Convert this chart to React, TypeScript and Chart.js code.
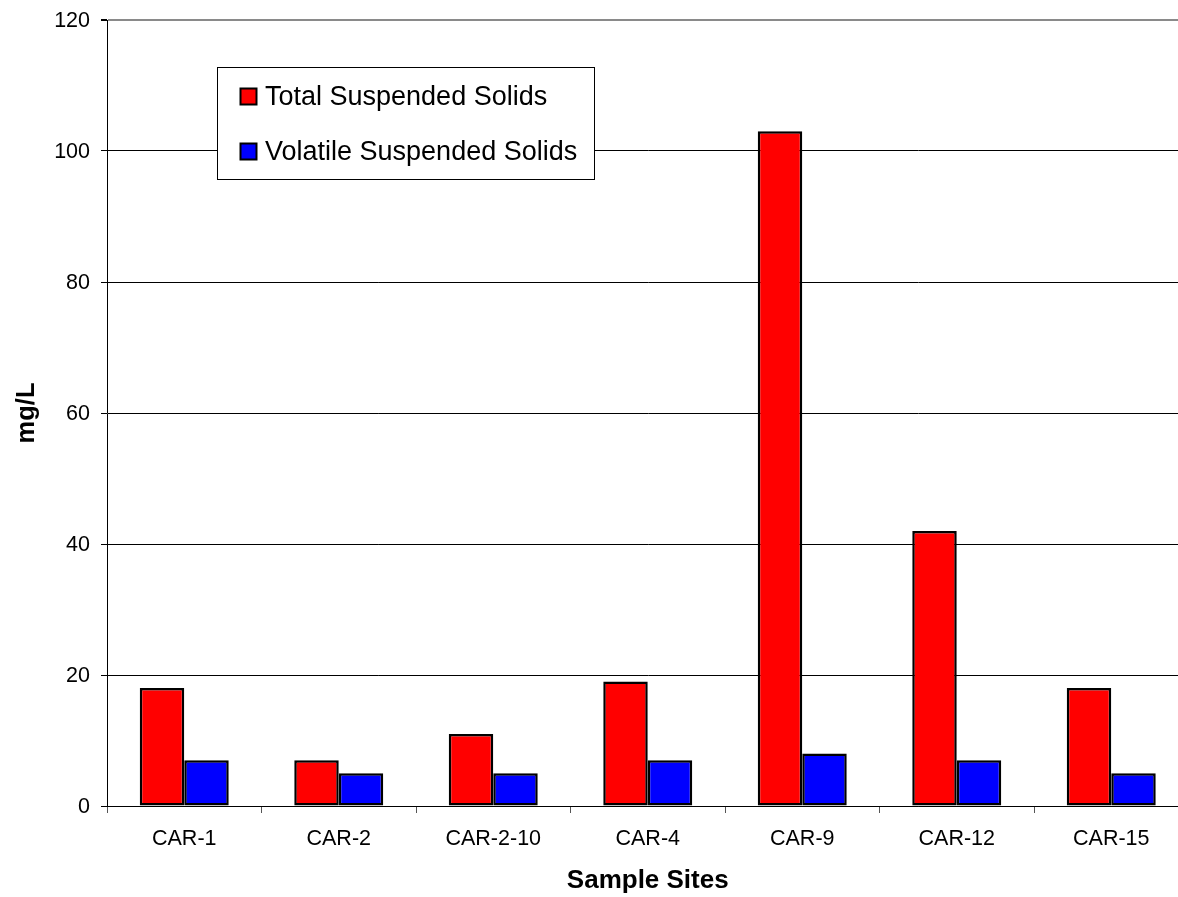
import React, { useEffect, useRef } from "react";
import { Chart, registerables } from "chart.js";

Chart.register(...registerables);

const categories = ["CAR-1", "CAR-2", "CAR-2-10", "CAR-4", "CAR-9", "CAR-12", "CAR-15"];
const totalSuspendedSolids = [18, 7, 11, 19, 103, 42, 18];
const volatileSuspendedSolids = [7, 5, 5, 7, 8, 7, 5];
const seriesLabels = ["Total Suspended Solids", "Volatile Suspended Solids"];
const seriesColors = ["#FF0000", "#0000FF"];
const yTickValues = [0, 20, 40, 60, 80, 100, 120];
const xAxisTitle = "Sample Sites";
const yAxisTitle = "mg/L";

const FONT = "Arial, 'Liberation Sans', sans-serif";

const boxLegend = {
  id: "boxLegend",
  afterDraw(chart: any) {
    const { ctx, chartArea } = chart;
    const x0 = chartArea.left + 110.5;
    const y0 = chartArea.top + 47.5;
    const w = 377;
    const h = 112;
    ctx.save();
    ctx.fillStyle = "#ffffff";
    ctx.fillRect(x0, y0, w, h);
    ctx.strokeStyle = "#000000";
    ctx.lineWidth = 1;
    ctx.strokeRect(x0, y0, w, h);
    ctx.font = `27px ${FONT}`;
    ctx.textBaseline = "middle";
    ctx.textAlign = "left";
    chart.data.datasets.forEach((ds: any, i: number) => {
      const cy = y0 + 29 + i * 55;
      const sx = x0 + 23;
      const size = 16;
      ctx.fillStyle = ds.backgroundColor;
      ctx.fillRect(sx, cy - size / 2, size, size);
      ctx.lineWidth = 2;
      ctx.strokeStyle = "#000000";
      ctx.strokeRect(sx, cy - size / 2, size, size);
      ctx.fillStyle = "#000000";
      ctx.fillText(ds.label, x0 + 47.5, cy + 1.5);
    });
    ctx.restore();
  },
};

export default function App() {
  const canvasRef = useRef<HTMLCanvasElement | null>(null);

  useEffect(() => {
    if (!canvasRef.current) return;
    const chart = new Chart(canvasRef.current, {
      type: "bar",
      data: {
        labels: categories,
        datasets: [
          {
            label: seriesLabels[0],
            data: totalSuspendedSolids,
            backgroundColor: seriesColors[0],
            borderColor: "#000000",
            borderWidth: 2.5,
            borderSkipped: false,
            barPercentage: 1,
            categoryPercentage: 0.576,
          },
          {
            label: seriesLabels[1],
            data: volatileSuspendedSolids,
            backgroundColor: seriesColors[1],
            borderColor: "#000000",
            borderWidth: 2.5,
            borderSkipped: false,
            barPercentage: 1,
            categoryPercentage: 0.576,
          },
        ],
      },
      options: {
        responsive: false,
        animation: false,
        devicePixelRatio: 1,
        layout: { padding: { left: 0, right: 11.5, top: 20, bottom: 0 } },
        plugins: {
          legend: { display: false },
          tooltip: { enabled: false },
          title: { display: false },
        },
        scales: {
          x: {
            offset: true,
            grid: {
              display: true,
              offset: true,
              drawOnChartArea: false,
              drawTicks: true,
              tickLength: 7,
              color: "#555555",
            },
            border: { display: true, color: "#000000", width: 1 },
            ticks: {
              color: "#000000",
              font: { family: FONT, size: 21.5 },
              padding: 13,
              maxRotation: 0,
              autoSkip: false,
            },
            title: {
              display: true,
              text: xAxisTitle,
              color: "#000000",
              font: { family: FONT, size: 26, weight: "bold" },
              padding: { top: 0, bottom: 1 },
            },
            afterFit: (scale: any) => {
              scale.height = 91;
            },
          },
          y: {
            min: 0,
            max: 120,
            afterBuildTicks: (scale: any) => {
              scale.ticks = yTickValues.map((v) => ({ value: v }));
            },
            grid: {
              color: (c: any) => (c.tick && c.tick.value === 120 ? "#8a8a8a" : "#000000"),
              lineWidth: (c: any) => (c.tick && c.tick.value === 120 ? 2 : 1),
              tickColor: "#000000",
              tickLength: 6,
              drawTicks: true,
            },
            border: { display: true, color: "#000000", width: 1 },
            ticks: {
              color: "#000000",
              font: { family: FONT, size: 21.5 },
              padding: 11,
              labelOffset: 1.5,
            },
            title: {
              display: true,
              text: yAxisTitle,
              color: "#000000",
              font: { family: FONT, size: 25.5, weight: "bold" },
              padding: { top: 12, bottom: 0 },
            },
            afterFit: (scale: any) => {
              scale.width = 107;
              scale.paddingTop = 0;
              scale.paddingBottom = 0;
            },
          },
        },
      },
      plugins: [boxLegend],
    } as any);
    return () => chart.destroy();
  }, []);

  return (
    <div
      style={{
        position: "fixed",
        left: 0,
        top: 0,
        width: 1178,
        height: 897,
        overflow: "hidden",
        background: "#ffffff",
      }}
    >
      <canvas ref={canvasRef} width={1200} height={897} style={{ display: "block" }} />
    </div>
  );
}
